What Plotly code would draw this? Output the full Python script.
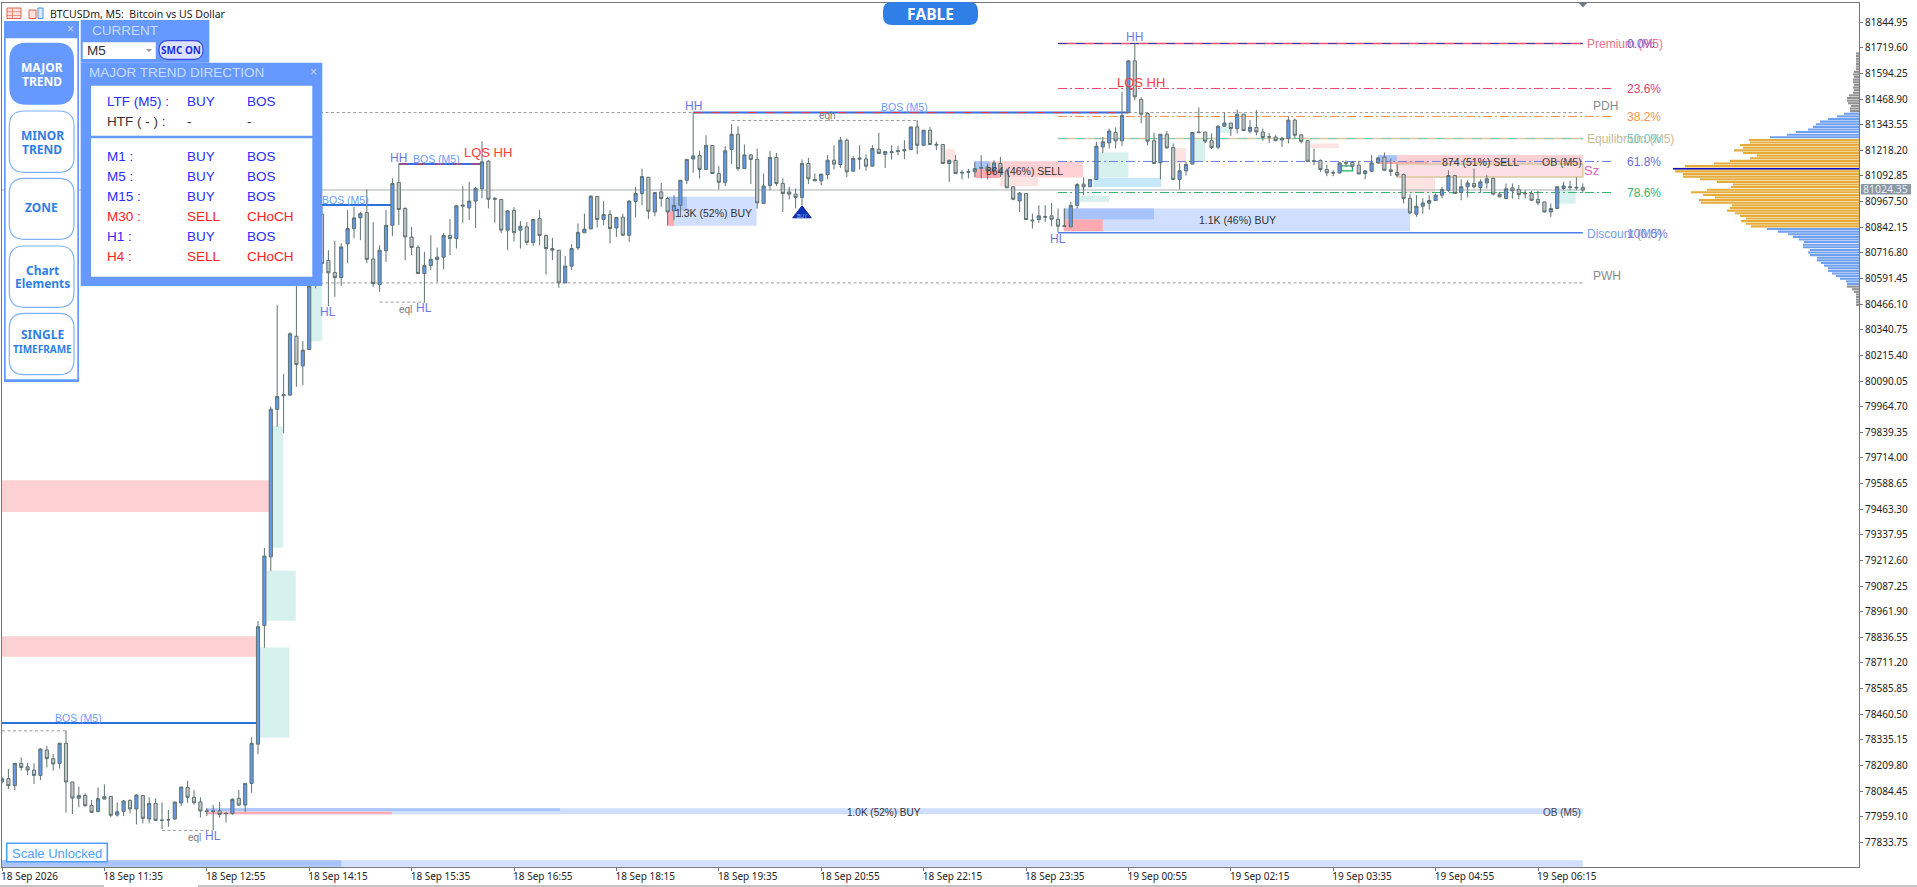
import plotly.graph_objects as go

# ---------- chart data ----------
opens = [78129,78145,78111,78220,78203,78187,78161,78285,78243,78220,
78318,78129,78049,78063,78014,77985,78045,78058,77967,77985,
78039,77997,78063,77948,78024,77943,77943,77948,78026,78102,
78054,78031,77985,77985,77988,77975,77974,78049,78016,78122,
78314,78895,79230,79951,80018,80021,80309,80164,80244,80632,
80906,80680,80621,80596,80761,80836,80888,80914,80687,80562,
80727,80852,81061,80934,80794,80743,80616,80655,80685,80696,
80802,80787,80945,80937,80970,81030,81165,80984,80978,80828,
80924,80828,80844,80768,80885,80802,80738,80730,80570,80652,
80741,80815,80834,80993,80880,80905,80839,80891,80803,80968,
81007,81087,80917,81015,80983,80922,80949,81072,81176,81193,
81125,81242,81105,81062,81222,81297,81129,81196,81174,80958,
81046,81183,81056,81015,81004,80988,81154,81069,81069,81100,
81170,81149,81268,81116,81175,81176,81141,81224,81199,81207,
81212,81216,81222,81333,81243,81317,81248,81247,81154,81169,
81111,81111,81113,81131,81137,81118,81154,81118,81040,80971,
81007,80877,80880,80891,80898,80881,80846,80844,80949,81053,
81040,81076,81235,81255,81306,81265,81403,81656,81468,81398,
81265,81157,81297,81232,81076,81118,81151,81308,81308,81266,
81234,81336,81352,81325,81395,81312,81330,81308,81285,81283,
81269,81276,81366,81294,81266,81168,81169,81125,81107,81108,
81155,81159,81146,81105,81116,81157,81185,81123,81110,81100,
80984,80906,80945,80960,80973,80999,81023,81095,81012,81040,
81056,81037,81059,81081,81004,80983,81035,81027,81009,81007,
80978,80966,80917,80934,81032,81040,81038,81037]
closes = [78145,78111,78220,78200,78187,78161,78290,78243,78217,78318,
78129,78050,78063,78013,77980,78047,78057,77966,77983,78036,
77997,78065,77951,78024,77941,77941,77944,78031,78104,78054,
78027,77987,77987,77987,77970,77974,78044,78016,78122,78318,
78888,79234,79952,80014,80023,80321,80171,80241,80554,80828,
80665,80619,80596,80746,80836,80888,80909,80685,80567,80730,
80851,81056,80929,80795,80743,80616,80655,80685,80696,80802,
80787,80947,80950,80970,81032,81162,80979,80979,80828,80922,
80816,80847,80768,80880,80802,80738,80730,80570,80652,80738,
80817,80833,80994,80880,80905,80836,80890,80803,80970,81007,
81090,80921,81012,80983,80917,80949,81072,81174,81191,81125,
81242,81105,81062,81216,81297,81129,81196,81174,80961,81044,
81183,81056,81007,81004,80988,81154,81079,81076,81102,81170,
81151,81268,81113,81178,81180,81141,81227,81203,81213,81211,
81216,81222,81333,81243,81317,81247,81244,81154,81169,81105,
81108,81114,81129,81134,81118,81157,81113,81035,80979,81009,
80880,80874,80898,80894,80881,80847,80849,80949,81051,81040,
81076,81239,81260,81313,81265,81389,81656,81480,81395,81263,
81154,81297,81230,81076,81118,81149,81306,81306,81263,81232,
81336,81352,81325,81395,81315,81331,81308,81281,81283,81266,
81276,81366,81292,81262,81165,81165,81125,81108,81109,81157,
81158,81141,81103,81118,81157,81181,81121,81115,81097,80983,
80912,80945,80961,80973,80999,81027,81095,81007,81040,81059,
81040,81064,81079,81004,80991,81030,81020,81002,81006,80974,
80961,80917,80934,81040,81044,81037,81035,81024]
highs = [78155,78192,78220,78249,78223,78220,78293,78305,78265,78321,
78380,78129,78106,78073,78041,78101,78117,78058,78029,78041,
78044,78068,78063,78054,78049,78029,77992,78031,78106,78135,
78089,78054,78000,78016,78031,77983,78049,78089,78122,78347,
78916,79273,79964,80461,80124,80329,80554,80285,80632,80877,
80950,80730,80775,80764,80926,80942,80916,81028,80867,80754,
80926,81082,81151,80940,80844,80754,80722,80803,80743,80813,
80882,80950,81043,81064,81040,81263,81170,80989,80979,80926,
80940,80872,80868,80881,80926,80807,80790,80730,80702,80759,
80861,80909,80999,80994,80970,80926,80891,80909,80974,81040,
81129,81087,81014,81059,80991,80999,81072,81175,81403,81216,
81292,81243,81141,81240,81346,81336,81247,81199,81227,81105,
81216,81206,81081,81040,81032,81174,81181,81105,81102,81195,
81243,81284,81276,81190,81243,81199,81243,81304,81214,81243,
81240,81268,81333,81366,81317,81333,81260,81247,81174,81195,
81121,81128,81162,81195,81153,81170,81186,81129,81043,81015,
81010,80909,80950,80950,80961,80934,80934,80966,81058,81086,
81076,81260,81284,81325,81330,81504,81659,81741,81477,81401,
81304,81297,81313,81252,81154,81162,81306,81428,81308,81301,
81341,81403,81352,81418,81397,81366,81415,81325,81304,81292,
81284,81385,81374,81297,81268,81227,81174,81149,81121,81162,
81170,81165,81167,81121,81195,81186,81208,81178,81151,81105,
81004,80999,80984,80999,81006,81040,81121,81097,81076,81072,
81129,81076,81097,81086,81015,81056,81056,81048,81023,81020,
81020,80966,80958,81040,81064,81069,81086,81056]
lows = [78122,78094,78089,78184,78163,78119,78138,78200,78184,78194,
77979,77972,78005,78008,77979,77980,78045,77956,77959,77962,
77975,77921,77926,77926,77938,77899,77910,77943,78011,78027,
78018,77956,77962,77894,77954,77931,77970,78011,77983,78076,
78265,78785,79160,79866,79835,80021,80062,80070,80244,80544,
80617,80456,80502,80554,80666,80789,80779,80666,80551,80526,
80673,80800,80852,80681,80706,80616,80474,80632,80575,80636,
80706,80738,80864,80877,80838,80984,80934,80865,80813,80730,
80772,80738,80754,80751,80754,80611,80681,80546,80570,80632,
80730,80815,80834,80841,80852,80763,80795,80803,80771,80890,
80950,80883,80896,80942,80852,80877,80893,81053,81108,81081,
81125,81105,81027,81043,81151,81118,81129,81053,80934,80958,
81023,81043,80917,80978,80934,80950,81053,81069,81048,81076,
81125,81132,81088,81116,81125,81118,81141,81203,81132,81174,
81195,81175,81222,81199,81240,81247,81219,81154,81064,81105,
81076,81081,81088,81081,81076,81097,81088,81035,80974,80917,
80880,80836,80864,80868,80847,80818,80846,80844,80934,80999,
81040,81076,81206,81227,81227,81239,81403,81463,81350,81243,
81154,81077,81227,81076,81027,81095,81151,81301,81253,81224,
81224,81333,81289,81301,81312,81301,81292,81265,81255,81263,
81235,81252,81276,81252,81162,81146,81113,81092,81092,81105,
81137,81131,81100,81077,81113,81154,81118,81093,81088,80958,
80906,80893,80909,80929,80970,80983,81015,81007,80974,80988,
81032,81010,81032,80999,80988,80979,80983,80979,80983,80971,
80950,80914,80893,80934,81023,81023,81023,81010]

price_ticks = [81844.95,81719.60,81594.25,81468.90,81343.55,81218.20,81092.85,80967.50,80842.15,
               80716.80,80591.45,80466.10,80340.75,80215.40,80090.05,79964.70,79839.35,79714.00,
               79588.65,79463.30,79337.95,79212.60,79087.25,78961.90,78836.55,78711.20,78585.85,
               78460.50,78335.15,78209.80,78084.45,77959.10,77833.75]
time_labels = ["18 Sep 2026","18 Sep 11:35","18 Sep 12:55","18 Sep 14:15","18 Sep 15:35","18 Sep 16:55",
               "18 Sep 18:15","18 Sep 19:35","18 Sep 20:55","18 Sep 22:15","18 Sep 23:35","19 Sep 00:55",
               "19 Sep 02:15","19 Sep 03:35","19 Sep 04:55","19 Sep 06:15"]
time_bars = [0,16,32,48,64,80,96,112,128,144,160,176,192,208,224,240]

# volume profile, top row first
profile_top_gray = [3,3,3,3,3,3,3,5,6,5,6,6,5,6,5,6,10,12,12,11,8,9,9]
profile_top_blue = [15,22,31,39,43,46,51,63,72,89]
profile_orange = [110,109,119,116,125,116,102,109,129,145,174,186,184,176,176,159,142,126,128,152,168,
                  156,144,160,158,127,129,132,124,119,113,118,113,108]
profile_low_blue = [92,81,71,66,60,55,56,56,49,51,49,42,42,38,35,31,31,27,23,19,13,12]
profile_low_gray = [12,7,5,3,3,3,3,3]
PROFILE_START = 81692
PROFILE_STEP = 12.81

last_price = 81024.35

# zones: bar from, bar to, price top, price bottom, colour
MINT, PINK, RED, PALE, DARK = "#d7f2ee", "#fdd0d3", "#ffaab0", "#d0dfff", "#a9c3fb"
LPINK = "#fde3e1"
zones = [
 (40.3,44.9,78787,78345,MINT),(41.4,45.9,79162,78917,MINT),(42.2,43.9,79869,79274,MINT),(48.1,50,80559,80286,MINT),
 (0,41.7,79605,79449,PINK),(0,39.8,78842,78741,PINK),
 (31.9,247,78000,77971,PALE),(31.9,87.2,78000,77987,DARK),(31.9,60.9,77983,77971,RED),
 (0,247,77746,77714,PALE),(0,53,77746,77714,DARK),
 (104,117.9,80991,80849,PALE),(104,107,80991,80921,DARK),(104,105,80921,80849,RED),
 (152,168.9,81165,81085,PINK),(152,154.4,81165,81126,DARK),(152,155.9,81126,81083,RED),
 (155.9,161.9,81085,81043,LPINK),(147.3,148.9,81224,81155,LPINK),
 (171.3,176,81209,81085,MINT),(170.5,181.1,81083,81039,"#c7e8fa"),(168.4,173,80997,80966,MINT),
 (165.9,220,80934,80823,PALE),(165.9,180,80934,80880,DARK),(165.9,172,80880,80823,RED),
 (183.4,185,81229,81155,LPINK),(186.4,188,81277,81165,MINT),(190.3,192.2,81333,81304,MINT),(204.4,208.9,81252,81229,LPINK),
 (218,247,81195,81151,PINK),(215,218,81195,81165,DARK),(215,222.8,81165,81151,RED),
 (219.2,223.9,81088,81010,LPINK),(243.1,245.9,81023,80958,MINT),
]
# levels: bar from, bar to, price, colour, dash, width
DOT = "3px,2.5px"
DD = "9px,3px,2px,3px"
levels = [
 (49.7,247,81403,"#9a9a9a",DOT,1),(49.7,247,80570,"#9a9a9a",DOT,1),
 (0,247,last_price,"#aab2b6","solid",1.2),
 (165,247,81741,"#f0506e","solid",1.5),(165,247,81741,"#3040b0","dash",1),
 (165,251.7,81521,"#e8436e",DD,1),(165,251.7,81384,"#f7934a",DD,1),
 (165,247,81276,"#d8c79c","solid",1.5),(165,247,81276,"#6fcfc0","dash",1),
 (165,251.7,81164,"#6a7fe8",DD,1),(165,251.7,81012,"#34b46e",DD,1),
 (165,247,80815,"#4d7fe8","solid",1.5),
 (0,40,78417,"#2a72e0","solid",2),(0,10,78379,"#9a9a9a",DOT,1),(25,33,77892,"#9a9a9a",DOT,1),
 (49.7,60.9,80951,"#2a72e0","solid",2),
 (62,75.2,81151,"#3a6fe0","solid",2),(62,75.2,81151,"#f03040","dash",1),
 (59,66,80476,"#9a9a9a",DOT,1),
 (108,176,81403,"#3a6fe0","solid",2),(108,176,81403,"#f03040","dash",1),
 (114,143,81364,"#9a9a9a",DOT,1),
]
buy_signal_bar, buy_signal_price = 125, 80908

# ---------- helpers ----------
W, H = 1917, 887
L, R, T_, B = 2, 1859, 3, 867
def X(px): return (px - L) / (R - L)
def Y(py): return 1 - (py - T_) / (B - T_)
shapes, notes = [], []
def label(px, py, text, color="#333333", size=12, anchor="left", family="Liberation Sans", bold=False):
    notes.append(dict(x=X(px), y=Y(py), xref="paper", yref="paper", text=f"<b>{text}</b>" if bold else text,
                      showarrow=False, xanchor=anchor, yanchor="middle", borderpad=0,
                      font=dict(color=color, size=size, family=family)))
def box(x0, y0, x1, y1, fill, line=None, lw=1):
    shapes.append(dict(type="rect", xref="paper", yref="paper", x0=X(x0), x1=X(x1), y0=Y(y0), y1=Y(y1),
                       fillcolor=fill, line=dict(color=line or fill, width=lw if line else 0), layer="above"))
def pill(x0, y0, x1, y1, r, fill, line=None, lw=1):
    a, b, c, d = X(x0), X(x1), Y(y0), Y(y1)
    rx, ry = r / (R - L), r / (B - T_)
    p = (f"M {a+rx} {c} L {b-rx} {c} Q {b} {c} {b} {c-ry} L {b} {d+ry} Q {b} {d} {b-rx} {d} "
         f"L {a+rx} {d} Q {a} {d} {a} {d+ry} L {a} {c-ry} Q {a} {c} {a+rx} {c} Z")
    shapes.append(dict(type="path", xref="paper", yref="paper", path=p, fillcolor=fill,
                       line=dict(color=line or fill, width=lw if line else 0), layer="above"))
def poly(pts, fill):
    p = "M " + " L ".join(f"{X(a)} {Y(b)}" for a, b in pts) + " Z"
    shapes.append(dict(type="path", xref="paper", yref="paper", path=p, fillcolor=fill, line=dict(width=0), layer="above"))

# zones and levels sit under the candles
for i0, i1, top, bot, col in zones:
    shapes.append(dict(type="rect", xref="x", yref="y", x0=i0, x1=i1, y0=bot, y1=top, fillcolor=col,
                       line=dict(width=0), layer="below"))
shapes.append(dict(type="rect", xref="x", yref="y", x0=218, x1=247, y0=81088, y1=81151, fillcolor="#fde0e6",
                   line=dict(color="#d9c89a", width=1.5), layer="below"))
shapes.append(dict(type="rect", xref="x", yref="y", x0=209.3, x1=211, y0=81118, y1=81142, fillcolor="rgba(0,0,0,0)",
                   line=dict(color="#20b060", width=1.2), layer="below"))
for i0, i1, p, col, dash, w in levels:
    shapes.append(dict(type="line", xref="x", yref="y", x0=i0, x1=i1, y0=p, y1=p,
                       line=dict(color=col, dash=dash, width=w), layer="below"))

# ---------- chart labels ----------
SANS = "Liberation Sans"
BL, HHC = "#6a9cff", "#6a78e8"
for px, py, t in [(78,718,"BOS (M5)"),(345,199.5,"BOS (M5)"),(436.7,159,"BOS (M5)"),(904,106.7,"BOS (M5)")]:
    label(px, py, t, BL, 10.5, "center")
for px, py, t in [(398.7,157.7,"HH"),(693,105.7,"HH"),(1134.7,36.7,"HH"),(328.3,312.3,"HL"),(424.3,307.7,"HL"),
                  (213.3,836,"HL"),(1058,239.3,"HL")]:
    label(px, py, t, HHC, 12, "center")
for px, py in [(487.7,152.3),(1141,82.7)]:
    label(px, py, "LQS HH", "#ff3a3a", 13, "center")
for px, py, t in [(405,309,"eql"),(194,837.3,"eql"),(827.7,115.7,"eqh")]:
    label(px, py, t, "#777777", 10, "center")
label(713,212.7,"1.3K (52%) BUY","#333333",10.5,"center")
label(1024,171,"864 (46%) SELL","#333333",10.5,"center")
label(1237,220.3,"1.1K (46%) BUY","#333333",10.5,"center")
label(1480,161.7,"874 (51%) SELL","#333333",10.5,"center")
label(884,812,"1.0K (52%) BUY","#333333",10,"center")
label(1562,161.7,"OB (M5)","#444444",10.5,"center")
label(1562,812,"OB (M5)","#444444",10,"center")
label(1586,43.7,"Premium (M5)","#f0708a")
label(1626,43.7,"0.0%","#7060c8")
label(1626,88.7,"23.6%","#e0406a")
label(1592,106,"PDH","#8a8a8a")
label(1626,116.7,"38.2%","#f7934a")
label(1586,139,"Equilibrium (M5)","#c9bc94")
label(1626,139,"50.0%","#66ccd0")
label(1626,161.7,"61.8%","#6a70e0")
label(1583,171,"Sz","#e060c0",13)
label(1626,193,"78.6%","#34b46e")
label(1586,233.7,"Discount (M5)","#6f9ff0")
label(1626,233.7,"100.0%","#8080d0")
label(1592,276,"PWH","#8a8a8a")
label(802,216,"BUY","#9fb4f0",5,"center")

# ---------- title bar, badge, marker ----------
label(49,14,"BTCUSDm, M5:  Bitcoin vs US Dollar","#222222",10.5,family="Noto Sans")
box(7,8,21,18.5,"#fbe3e0","#e8604c",1)
for yy in (11.5,15):
    box(7,yy,21,yy+0.6,"#e8604c")
box(12,8,12.6,18.5,"#e8604c")
box(29,10,36,18.5,"#fbe3e0","#e8604c",1)
box(38,8,43,18.5,"#dcebfb","#4a90d9",1)
pill(883,2,978,25,9,"#2f7fe6")
label(930,13.5,"FABLE","#ffffff",15.5,"center","Open Sans",True)
poly([(1579,3),(1587,3),(1583,7.5)],"#6b7b88")

# ---------- left button panel ----------
PANEL, TITLE = "#6699ff", "#c8dcff"
box(4,21,79,382,PANEL)
box(5.7,38.3,77.3,379.3,"#ffffff")
label(70,29.5,"×","#c8d4ee",12,"center")
pill(9.3,42.7,74,104.7,17,PANEL)
for y0, y1 in [(111,172.3),(178.3,239.3),(246,307.3),(313.3,374.7)]:
    pill(9.3,y0,74,y1,15,"#ffffff","#7fb2fb",1.2)
BT = "Noto Sans"
label(42,67.5,"MAJOR","#ffffff",12,"center",BT,True)
label(42,81.5,"TREND","#ffffff",12,"center",BT,True)
label(42,136,"MINOR","#2f7fe6",12,"center",BT,True)
label(42,149.5,"TREND","#2f7fe6",12,"center",BT,True)
label(41,208,"ZONE","#2f7fe6",12,"center",BT,True)
label(42,270,"Chart","#2f7fe6",12,"center",BT,True)
label(42,283,"Elements","#2f7fe6",12,"center",BT,True)
label(42,334.5,"SINGLE","#2f7fe6",12,"center",BT,True)
label(42,348.5,"TIMEFRAME","#2f7fe6",10,"center",BT,True)

# ---------- current panel ----------
box(80.7,20,209.3,62.7,PANEL)
label(90.5,30,"CURRENT",TITLE,13.5)
box(82.7,42.3,155.7,59,"#ffffff")
label(85.5,50.7,"M5","#333333",13.5)
poly([(146,49),(152,49),(149,52)],"#9a9a9a")
pill(159,40.7,203,59.3,9,"#dde3ff","#3a4ae0",1.2)
label(181,50.2,"SMC ON","#1a2ee0",10,"center",BT,True)

# ---------- trend direction panel ----------
box(80.7,62.7,322.3,286,PANEL)
label(87.5,72.3,"MAJOR TREND DIRECTION",TITLE,13.5)
label(313,72.3,"×","#c8d4ee",12,"center")
box(91,85.7,312.3,135.7,"#ffffff")
box(91,138.3,312.3,276.7,"#ffffff")
BLUE, REDT, INK = "#2b2bff", "#ff2020", "#333333"
rows = [(101,"LTF (M5) :","BUY","BOS",BLUE),(121,"HTF ( - ) :","-","-",INK),(157,"M1 :","BUY","BOS",BLUE),
        (177,"M5 :","BUY","BOS",BLUE),(197,"M15 :","BUY","BOS",BLUE),(217,"M30 :","SELL","CHoCH",REDT),
        (237,"H1 :","BUY","BOS",BLUE),(257,"H4 :","SELL","CHoCH",REDT)]
for py, a, b, c, col in rows:
    label(106,py,a,col,13.5)
    label(186,py,b,col,13.5)
    label(246,py,c,col,13.5)

# ---------- scale box, price tag, frame bits ----------
box(6.7,843.3,107.3,861.7,"#ffffff","#4da0ff",1.6)
label(10.5,853,"Scale Unlocked","#4da0ff",13)
box(1861,184,1911,194.5,"#8b98a5")
label(1886,189.4,f"{last_price:.2f}","#e8edf2",10.5,"center","Noto Sans")
box(0,885.6,104,886.6,"#8a8a8a")
box(198,885.6,1917,886.6,"#8a8a8a")

# ---------- traces ----------
bars = list(range(len(opens)))
fig = go.Figure()
fig.add_trace(go.Candlestick(
    x=bars, open=opens, high=highs, low=lows, close=closes, xaxis="x", yaxis="y",
    increasing=dict(line=dict(color="#5e7272", width=1), fillcolor="#6299ea"),
    decreasing=dict(line=dict(color="#5e7272", width=1), fillcolor="#c4c6c6"),
    showlegend=False, hoverinfo="skip"))
fig.add_trace(go.Scatter(x=[buy_signal_bar], y=[buy_signal_price], mode="markers", xaxis="x", yaxis="y",
                         marker=dict(symbol="triangle-up", size=16, color="#0a35b8", line=dict(color="#0a2490", width=1)),
                         showlegend=False, hoverinfo="skip"))
groups = [(profile_top_gray,"#8f8f8f"),(profile_top_blue,"#6f9fef"),(profile_orange,"#e6ac3a"),
          (profile_low_blue,"#6f9fef"),(profile_low_gray,"#8f8f8f")]
row = 0
poc_price, poc_len = None, 0
for vals, col in groups:
    ys = [PROFILE_START - PROFILE_STEP * (row + k) for k in range(len(vals))]
    row += len(vals)
    for v, yy in zip(vals, ys):
        if v > poc_len:
            poc_len, poc_price = v, yy
    fig.add_trace(go.Bar(x=vals, y=ys, orientation="h", width=PROFILE_STEP * 0.8, marker=dict(color=col, line=dict(width=0)),
                         xaxis="x2", yaxis="y", showlegend=False, hoverinfo="skip"))
fig.add_trace(go.Scatter(x=[0, poc_len], y=[poc_price, poc_price], mode="lines", line=dict(color="#0a10d0", width=1.6),
                         xaxis="x2", yaxis="y", showlegend=False, hoverinfo="skip"))

TICK = dict(family="Noto Sans", size=10, color="#222222")
fig.update_layout(
    width=W, height=H, autosize=False, margin=dict(l=L, r=W-R, t=T_, b=H-B, pad=0),
    paper_bgcolor="#ffffff", plot_bgcolor="#ffffff", boxgap=0.3, barmode="overlay", showlegend=False,
    xaxis=dict(range=[0, (R-L)/6.4], tickmode="array", tickvals=time_bars, ticktext=time_labels, ticks="outside", ticklen=3,
               tickcolor="#777777", tickfont=TICK, ticklabelposition="outside right", ticklabelshift=-2, showgrid=False, zeroline=False,
               showline=True, linecolor="#777777", linewidth=1.2, mirror=True, rangeslider=dict(visible=False)),
    xaxis2=dict(range=[R-L, 0], overlaying="x", anchor="y", visible=False),
    yaxis=dict(range=[77713, 81939], side="right", tickmode="array", tickvals=price_ticks,
               ticktext=[f"{v:.2f}" for v in price_ticks], ticks="outside", ticklen=3, tickcolor="#777777",
               tickfont=TICK, showgrid=False, zeroline=False, showline=True, linecolor="#777777",
               linewidth=1.2, mirror=True),
    shapes=shapes, annotations=notes)
fig.write_html("out.html", config=dict(displayModeBar=False), post_script="document.body.style.margin='0';")
